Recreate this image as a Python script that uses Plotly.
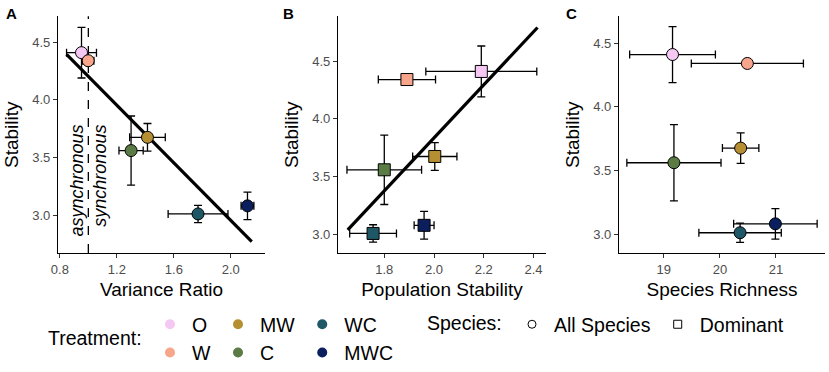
import plotly.graph_objects as go

# ---------------- data ----------------
treatments = ["O", "W", "MW", "C", "WC", "MWC"]
colors = ["#F5C8F3", "#F8A68B", "#B58F32", "#5B7B45", "#1E5766", "#0B1F5E"]

stability = [4.41, 4.34, 3.675, 3.56, 3.01, 3.08]
stability_se = [0.22, 0.02, 0.12, 0.30, 0.075, 0.12]

variance_ratio = [0.952, 0.999, 1.415, 1.30, 1.77, 2.117]
variance_ratio_se = [0.105, 0.04, 0.125, 0.085, 0.21, 0.045]

pop_stability = [2.19, 1.891, 2.003, 1.80, 1.755, 1.96]
pop_stability_se = [0.223, 0.115, 0.089, 0.15, 0.094, 0.04]

richness = [19.155, 20.49, 20.37, 19.18, 20.36, 20.99]
richness_se = [0.765, 1.0, 0.325, 0.84, 0.735, 0.745]

# fitted regression lines (end points)
fit_a_x = [0.847, 2.147]
fit_a_y = [4.394, 2.77]
fit_b_x = [1.653, 2.416]
fit_b_y = [3.04, 4.79]

x_ticks_a = [0.8, 1.2, 1.6, 2.0]
x_ticks_b = [1.8, 2.0, 2.2, 2.4]
x_ticks_c = [19, 20, 21]
y_ticks = [3.0, 3.5, 4.0, 4.5]

W, H = 829, 372
FONT = "Liberation Sans, Arial, sans-serif"
BIG = 19.5

fig = go.Figure()

err_style = dict(type="data", color="black", thickness=1.3, width=4)


def add_panel(xs, xse, xa, ya, symbol, fit_x=None, fit_y=None):
    if fit_x is not None:
        fig.add_trace(go.Scatter(x=fit_x, y=fit_y, mode="lines",
                                 line=dict(color="black", width=3.2),
                                 xaxis=xa, yaxis=ya, showlegend=False, hoverinfo="skip"))
    fig.add_trace(go.Scatter(
        x=xs, y=stability, mode="markers",
        marker=dict(color=colors, size=12, symbol=symbol,
                    line=dict(color="black", width=1)),
        error_x=dict(array=xse, **err_style),
        error_y=dict(array=stability_se, **err_style),
        xaxis=xa, yaxis=ya, showlegend=False, text=treatments))


add_panel(variance_ratio, variance_ratio_se, "x", "y", "circle", fit_a_x, fit_a_y)
add_panel(pop_stability, pop_stability_se, "x2", "y2", "square", fit_b_x, fit_b_y)
add_panel(richness, richness_se, "x3", "y3", "circle")

# legend entries (treatment) grouped in columns of two
legend_order = [("O", "g1"), ("W", "g1"), ("MW", "g2"), ("C", "g2"), ("WC", "g3"), ("MWC", "g3")]
for name, grp in legend_order:
    fig.add_trace(go.Scatter(x=[None], y=[None], mode="markers", name=name,
                             legendgroup=grp, legend="legend",
                             marker=dict(color=colors[treatments.index(name)], size=10)))

for name, sym in [("All Species", "circle-open"), ("Dominant", "square-open")]:
    fig.add_trace(go.Scatter(x=[None], y=[None], mode="markers", name=name,
                             legend="legend2",
                             marker=dict(color="black", size=8, symbol=sym,
                                         line=dict(width=1))))

# ---------------- layout ----------------
ydom = [1 - 263 / H, 1 - 17 / H]
axis_common = dict(showline=True, linecolor="black", linewidth=1.1, ticks="outside",
                   ticklen=4, tickcolor="#333333", showgrid=False, zeroline=False,
                   tickfont=dict(size=13, color="#4D4D4D", family=FONT),
                   title_font=dict(size=19, color="black", family=FONT),
                   automargin=False)

fig.update_layout(
    width=W, height=H,
    margin=dict(l=0, r=0, t=0, b=0),
    paper_bgcolor="white", plot_bgcolor="white",
    font=dict(family=FONT, color="black"),
    xaxis=dict(domain=[58 / W, 265 / W], range=[0.787, 2.24], tickvals=x_ticks_a,
               tickformat=".1f", title=dict(text="Variance Ratio", standoff=6), anchor="y", **axis_common),
    yaxis=dict(domain=ydom, range=[2.67, 4.725], tickvals=y_ticks, tickformat=".1f",
               title=dict(text="Stability", standoff=8), anchor="x", **axis_common),
    xaxis2=dict(domain=[338 / W, 546 / W], range=[1.614, 2.45], tickvals=x_ticks_b,
                tickformat=".1f", title=dict(text="Population Stability", standoff=6), anchor="y2", **axis_common),
    yaxis2=dict(domain=ydom, range=[2.84, 4.886], tickvals=y_ticks, tickformat=".1f",
                title=dict(text="Stability", standoff=8), anchor="x2", **axis_common),
    xaxis3=dict(domain=[619 / W, 825 / W], range=[18.2, 21.875], tickvals=x_ticks_c,
                tickformat="d", title=dict(text="Species Richness", standoff=6), anchor="y3", **axis_common),
    yaxis3=dict(domain=ydom, range=[2.85, 4.71], tickvals=y_ticks, tickformat=".1f",
                title=dict(text="Stability", standoff=8), anchor="x3", **axis_common),
    legend=dict(orientation="h", traceorder="grouped", x=148 / W, xanchor="left",
                y=1 - 317 / H, yanchor="top", font=dict(size=BIG, family=FONT),
                bgcolor="rgba(0,0,0,0)", tracegroupgap=0, itemwidth=34),
    legend2=dict(orientation="h", x=510 / W, xanchor="left",
                 y=1 - 317 / H, yanchor="top", font=dict(size=BIG, family=FONT),
                 bgcolor="rgba(0,0,0,0)", itemwidth=34),
    shapes=[dict(type="line", xref="x", yref="y domain", x0=1.0, x1=1.0, y0=0, y1=1,
                 line=dict(color="black", width=1.3, dash="dash"), layer="below")],
    annotations=[
        dict(text="<b>A</b>", x=4 / W, y=1 - 14 / H, xref="paper", yref="paper",
             xanchor="left", yanchor="middle", showarrow=False, font=dict(size=15)),
        dict(text="<b>B</b>", x=281 / W, y=1 - 14 / H, xref="paper", yref="paper",
             xanchor="left", yanchor="middle", showarrow=False, font=dict(size=15)),
        dict(text="<b>C</b>", x=564 / W, y=1 - 14 / H, xref="paper", yref="paper",
             xanchor="left", yanchor="middle", showarrow=False, font=dict(size=15)),
        dict(text="asynchronous", x=0.92, y=3.30, xref="x", yref="y", textangle=-90,
             showarrow=False, font=dict(size=18, style="italic")),
        dict(text="synchronous", x=1.08, y=3.34, xref="x", yref="y", textangle=-90,
             showarrow=False, font=dict(size=18, style="italic")),
        dict(text="Treatment:", x=46 / W, y=1 - 351 / H, xref="paper", yref="paper",
             xanchor="left", yanchor="middle", showarrow=False, font=dict(size=BIG)),
        dict(text="Species:", x=425 / W, y=1 - 336 / H, xref="paper", yref="paper",
             xanchor="left", yanchor="middle", showarrow=False, font=dict(size=BIG)),
    ],
)

fig.write_html("out.html", config={"displayModeBar": False},
               post_script="document.body.style.margin='0px';")
